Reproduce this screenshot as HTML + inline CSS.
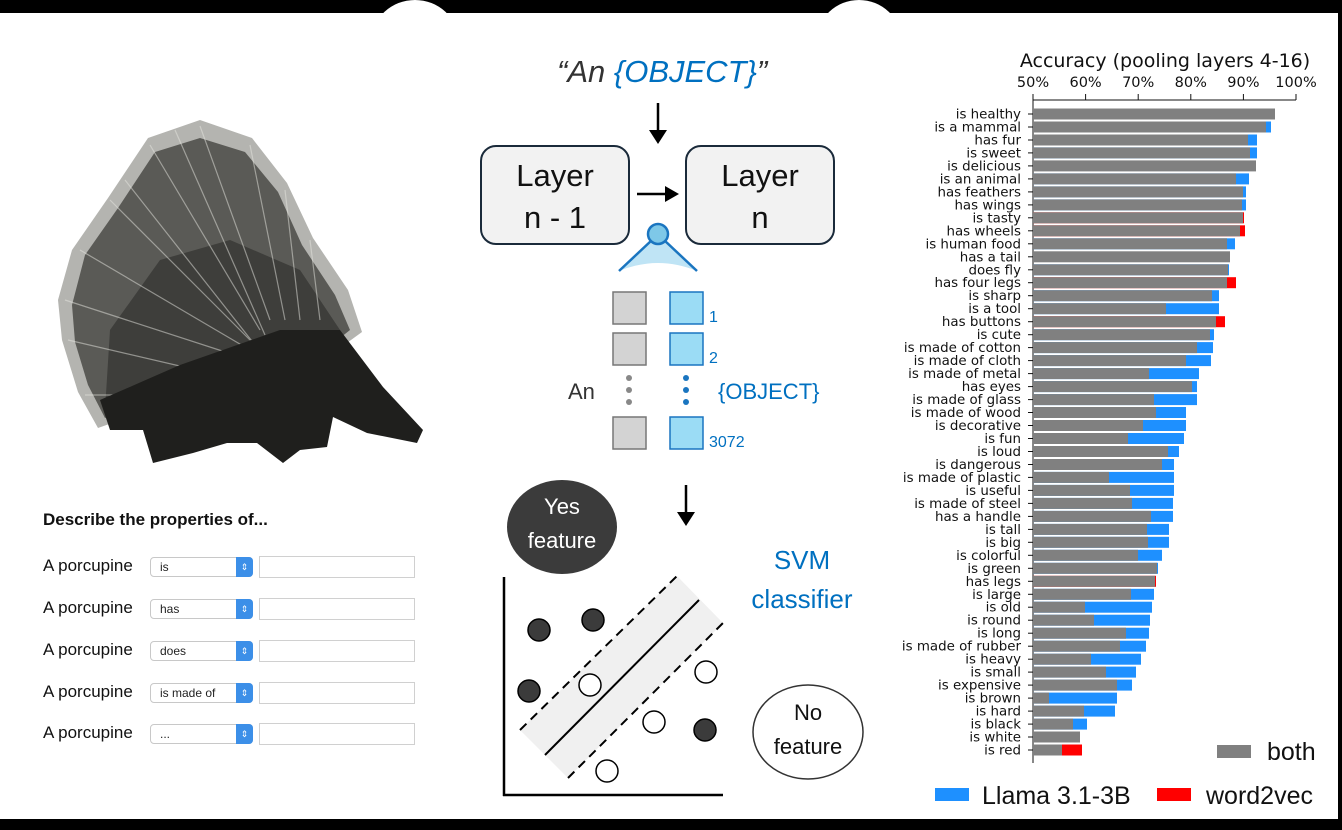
<!DOCTYPE html>
<html><head><meta charset="utf-8"><style>
html,body{margin:0;padding:0;background:#fff;}
body{width:1342px;height:830px;overflow:hidden;position:relative;font-family:"Liberation Sans",sans-serif;}
svg{position:absolute;left:0;top:0;}
.lb{font-family:"DejaVu Sans",sans-serif;font-size:13.4px;fill:#111;text-anchor:end;}
.g{fill:#808080}.b{fill:#1e90ff}.r{fill:#ff0000}
.frm{position:absolute;font-size:17px;color:#111;}
.sel{position:absolute;left:150px;width:103px;height:20px;border:1px solid #c8c8c8;border-radius:4px;background:#fff;box-sizing:border-box;font-size:12px;line-height:19px;padding-left:9px;color:#222;}
.sel i{position:absolute;right:-1px;top:-1px;width:17px;height:20px;background:#3c8fe8;border-radius:0 4px 4px 0;color:#fff;font-style:normal;font-size:9px;text-align:center;line-height:20px;}
.inp{position:absolute;left:259px;width:156px;height:22px;border:1px solid #d0d0d0;box-sizing:border-box;background:#fff;}
</style></head><body>
<svg width="1342" height="830" viewBox="0 0 1342 830">
<!-- frame -->
<rect x="0" y="0" width="1342" height="13" fill="#000"/>
<ellipse cx="415" cy="40" rx="43" ry="40" fill="#fff"/>
<ellipse cx="859" cy="40" rx="42" ry="40" fill="#fff"/>
<rect x="0" y="13" width="1338" height="806" fill="#fff"/>
<rect x="1338" y="0" width="4" height="830" fill="#000"/>
<rect x="0" y="819" width="1342" height="11" fill="#000"/>

<!-- porcupine -->
<g>
<polygon points="58,300 72,250 108,198 148,138 200,120 252,138 287,183 313,238 348,290 362,332 340,348 200,392 98,428 78,392 62,340" fill="#b4b4b0"/>
<polygon points="72,305 85,255 118,208 155,152 200,138 245,152 278,192 302,245 335,295 350,330 335,342 200,385 105,418 88,385 75,342" fill="#5a5a56"/>
<polygon points="110,330 160,260 230,240 300,270 340,330 200,385 105,410" fill="#3e3e3b"/>
<g stroke="#e6e6e0" stroke-width="1.2" opacity="0.5">
<line x1="250" y1="360" x2="65" y2="300"/><line x1="250" y1="350" x2="80" y2="250"/><line x1="250" y1="340" x2="110" y2="200"/>
<line x1="260" y1="330" x2="150" y2="145"/><line x1="270" y1="320" x2="200" y2="126"/><line x1="285" y1="320" x2="250" y2="145"/>
<line x1="300" y1="320" x2="285" y2="190"/><line x1="320" y1="320" x2="310" y2="240"/><line x1="240" y1="380" x2="68" y2="340"/>
<line x1="230" y1="395" x2="85" y2="395"/><line x1="255" y1="345" x2="125" y2="180"/><line x1="265" y1="335" x2="175" y2="130"/>
</g>
<polygon points="100,400 180,365 280,330 340,330 383,387 423,430 417,443 367,433 333,417 327,447 300,450 283,463 257,443 227,443 193,453 153,463 143,430 110,430" fill="#1f1f1d"/>
</g>

<!-- middle -->
<text x="557" y="82" font-family="Liberation Sans,sans-serif" font-size="31" font-style="italic" fill="#333">“An <tspan fill="#0070c0">{OBJECT}</tspan>”</text>
<line x1="658" y1="103" x2="658" y2="132" stroke="#000" stroke-width="2.5"/>
<polygon points="649,130 667,130 658,144" fill="#000"/>
<rect x="481" y="146" width="148" height="98" rx="15" fill="#f2f2f2" stroke="#1a2a3a" stroke-width="2"/>
<rect x="686" y="146" width="148" height="98" rx="15" fill="#f2f2f2" stroke="#1a2a3a" stroke-width="2"/>
<g font-family="Liberation Sans,sans-serif" font-size="31" fill="#111" text-anchor="middle">
<text x="555" y="186">Layer</text><text x="555" y="228">n - 1</text>
<text x="760" y="186">Layer</text><text x="760" y="228">n</text>
</g>
<line x1="637" y1="194" x2="667" y2="194" stroke="#000" stroke-width="2.5"/>
<polygon points="665,186 679,194 665,202" fill="#000"/>
<path d="M619,271 L650,242 L668,242 L697,271 Q658,255 619,271 Z" fill="#bfe4f5"/>
<line x1="619" y1="271" x2="652" y2="240" stroke="#1a75c0" stroke-width="2.5"/>
<line x1="697" y1="271" x2="664" y2="240" stroke="#1a75c0" stroke-width="2.5"/>
<circle cx="658" cy="234" r="10" fill="#7ec8e8" stroke="#1a75c0" stroke-width="2.5"/>
<g fill="#d3d3d3" stroke="#777" stroke-width="1.5">
<rect x="613" y="292" width="33" height="32"/><rect x="613" y="333" width="33" height="32"/><rect x="613" y="417" width="33" height="32"/>
</g>
<g fill="#9bdcf5" stroke="#1a75c0" stroke-width="1.5">
<rect x="670" y="292" width="33" height="32"/><rect x="670" y="333" width="33" height="32"/><rect x="670" y="417" width="33" height="32"/>
</g>
<g fill="#888"><circle cx="629" cy="378" r="3"/><circle cx="629" cy="390" r="3"/><circle cx="629" cy="402" r="3"/></g>
<g fill="#1a75c0"><circle cx="686" cy="378" r="3"/><circle cx="686" cy="390" r="3"/><circle cx="686" cy="402" r="3"/></g>
<g font-family="Liberation Sans,sans-serif" fill="#0070c0">
<text x="709" y="322" font-size="16">1</text><text x="709" y="363" font-size="16">2</text><text x="709" y="447" font-size="16">3072</text>
<text x="718" y="399" font-size="22">{OBJECT}</text>
</g>
<text x="568" y="399" font-family="Liberation Sans,sans-serif" font-size="22" fill="#333">An</text>

<line x1="686" y1="485" x2="686" y2="514" stroke="#000" stroke-width="2.5"/>
<polygon points="677,512 695,512 686,526" fill="#000"/>
<ellipse cx="562" cy="527" rx="55" ry="47" fill="#3b3b3b"/>
<g font-family="Liberation Sans,sans-serif" font-size="22" text-anchor="middle">
<text x="562" y="514" fill="#fff">Yes</text><text x="562" y="548" fill="#fff">feature</text>
<text x="802" y="569" fill="#0070c0" font-size="26">SVM</text><text x="802" y="608" fill="#0070c0" font-size="26">classifier</text>
</g>
<polygon points="520,730 677,576 723,623 568,778" fill="#f0f0f0"/>
<line x1="520" y1="730" x2="677" y2="576" stroke="#000" stroke-width="2" stroke-dasharray="9,6"/>
<line x1="568" y1="778" x2="723" y2="623" stroke="#000" stroke-width="2" stroke-dasharray="9,6"/>
<line x1="545" y1="755" x2="699" y2="600" stroke="#000" stroke-width="2"/>
<line x1="504" y1="577" x2="504" y2="796" stroke="#000" stroke-width="2.5"/>
<line x1="503" y1="795" x2="723" y2="795" stroke="#000" stroke-width="2.5"/>
<g fill="#3b3b3b" stroke="#000" stroke-width="1.5">
<circle cx="539" cy="630" r="11"/><circle cx="593" cy="620" r="11"/><circle cx="529" cy="691" r="11"/><circle cx="705" cy="730" r="11"/>
</g>
<g fill="#fff" stroke="#000" stroke-width="1.5">
<circle cx="590" cy="685" r="11"/><circle cx="706" cy="672" r="11"/><circle cx="654" cy="722" r="11"/><circle cx="607" cy="771" r="11"/>
</g>
<ellipse cx="808" cy="732" rx="55" ry="47" fill="#fff" stroke="#333" stroke-width="1.5"/>
<g font-family="Liberation Sans,sans-serif" font-size="22" text-anchor="middle" fill="#111">
<text x="808" y="720">No</text><text x="808" y="754">feature</text>
</g>

<!-- chart -->
<text x="1165" y="67" font-family="DejaVu Sans,sans-serif" font-size="19" text-anchor="middle" fill="#111">Accuracy (pooling layers 4-16)</text>
<g font-family="DejaVu Sans,sans-serif" font-size="14.5" text-anchor="middle" fill="#111">
<text x="1033" y="87">50%</text><text x="1085.6" y="87">60%</text><text x="1138.2" y="87">70%</text><text x="1190.8" y="87">80%</text><text x="1243.4" y="87">90%</text><text x="1296" y="87">100%</text>
</g>
<g stroke="#111" stroke-width="1">
<line x1="1033" y1="100" x2="1296" y2="100"/><line x1="1033" y1="100" x2="1033" y2="763"/>
<line x1="1033" y1="94" x2="1033" y2="100"/><line x1="1085.6" y1="94" x2="1085.6" y2="100"/><line x1="1138.2" y1="94" x2="1138.2" y2="100"/><line x1="1190.8" y1="94" x2="1190.8" y2="100"/><line x1="1243.4" y1="94" x2="1243.4" y2="100"/><line x1="1296" y1="94" x2="1296" y2="100"/>
</g>
<g id="rows">
<g transform="translate(0,114)"><text class="lb" x="1021" y="4.5">is healthy</text><rect class="g" x="1033" y="-5.5" width="242" height="11"/></g>
<g transform="translate(0,127)"><text class="lb" x="1021" y="4.5">is a mammal</text><rect class="b" x="1033" y="-5.5" width="238" height="11"/><rect class="g" x="1033" y="-5.5" width="233" height="11"/></g>
<g transform="translate(0,140)"><text class="lb" x="1021" y="4.5">has fur</text><rect class="b" x="1033" y="-5.5" width="224" height="11"/><rect class="g" x="1033" y="-5.5" width="215" height="11"/></g>
<g transform="translate(0,152.9)"><text class="lb" x="1021" y="4.5">is sweet</text><rect class="b" x="1033" y="-5.5" width="224" height="11"/><rect class="g" x="1033" y="-5.5" width="217" height="11"/></g>
<g transform="translate(0,165.9)"><text class="lb" x="1021" y="4.5">is delicious</text><rect class="g" x="1033" y="-5.5" width="223" height="11"/></g>
<g transform="translate(0,178.9)"><text class="lb" x="1021" y="4.5">is an animal</text><rect class="b" x="1033" y="-5.5" width="216" height="11"/><rect class="g" x="1033" y="-5.5" width="203" height="11"/></g>
<g transform="translate(0,191.9)"><text class="lb" x="1021" y="4.5">has feathers</text><rect class="b" x="1033" y="-5.5" width="213" height="11"/><rect class="g" x="1033" y="-5.5" width="210" height="11"/></g>
<g transform="translate(0,204.9)"><text class="lb" x="1021" y="4.5">has wings</text><rect class="b" x="1033" y="-5.5" width="213" height="11"/><rect class="g" x="1033" y="-5.5" width="209" height="11"/></g>
<g transform="translate(0,217.8)"><text class="lb" x="1021" y="4.5">is tasty</text><rect class="r" x="1033" y="-5.5" width="211" height="11"/><rect class="g" x="1033" y="-5.5" width="210" height="11"/></g>
<g transform="translate(0,230.8)"><text class="lb" x="1021" y="4.5">has wheels</text><rect class="r" x="1033" y="-5.5" width="212" height="11"/><rect class="g" x="1033" y="-5.5" width="207" height="11"/></g>
<g transform="translate(0,243.8)"><text class="lb" x="1021" y="4.5">is human food</text><rect class="b" x="1033" y="-5.5" width="202" height="11"/><rect class="g" x="1033" y="-5.5" width="194" height="11"/></g>
<g transform="translate(0,256.8)"><text class="lb" x="1021" y="4.5">has a tail</text><rect class="g" x="1033" y="-5.5" width="197" height="11"/></g>
<g transform="translate(0,269.8)"><text class="lb" x="1021" y="4.5">does fly</text><rect class="b" x="1033" y="-5.5" width="196" height="11"/><rect class="g" x="1033" y="-5.5" width="195" height="11"/></g>
<g transform="translate(0,282.7)"><text class="lb" x="1021" y="4.5">has four legs</text><rect class="r" x="1033" y="-5.5" width="203" height="11"/><rect class="g" x="1033" y="-5.5" width="194" height="11"/></g>
<g transform="translate(0,295.7)"><text class="lb" x="1021" y="4.5">is sharp</text><rect class="b" x="1033" y="-5.5" width="186" height="11"/><rect class="g" x="1033" y="-5.5" width="179" height="11"/></g>
<g transform="translate(0,308.7)"><text class="lb" x="1021" y="4.5">is a tool</text><rect class="b" x="1033" y="-5.5" width="186" height="11"/><rect class="g" x="1033" y="-5.5" width="133" height="11"/></g>
<g transform="translate(0,321.7)"><text class="lb" x="1021" y="4.5">has buttons</text><rect class="r" x="1033" y="-5.5" width="192" height="11"/><rect class="g" x="1033" y="-5.5" width="183" height="11"/></g>
<g transform="translate(0,334.7)"><text class="lb" x="1021" y="4.5">is cute</text><rect class="b" x="1033" y="-5.5" width="181" height="11"/><rect class="g" x="1033" y="-5.5" width="177" height="11"/></g>
<g transform="translate(0,347.6)"><text class="lb" x="1021" y="4.5">is made of cotton</text><rect class="b" x="1033" y="-5.5" width="180" height="11"/><rect class="g" x="1033" y="-5.5" width="164" height="11"/></g>
<g transform="translate(0,360.6)"><text class="lb" x="1021" y="4.5">is made of cloth</text><rect class="b" x="1033" y="-5.5" width="178" height="11"/><rect class="g" x="1033" y="-5.5" width="153" height="11"/></g>
<g transform="translate(0,373.6)"><text class="lb" x="1021" y="4.5">is made of metal</text><rect class="b" x="1033" y="-5.5" width="166" height="11"/><rect class="g" x="1033" y="-5.5" width="116" height="11"/></g>
<g transform="translate(0,386.6)"><text class="lb" x="1021" y="4.5">has eyes</text><rect class="b" x="1033" y="-5.5" width="164" height="11"/><rect class="g" x="1033" y="-5.5" width="159" height="11"/></g>
<g transform="translate(0,399.6)"><text class="lb" x="1021" y="4.5">is made of glass</text><rect class="b" x="1033" y="-5.5" width="164" height="11"/><rect class="g" x="1033" y="-5.5" width="121" height="11"/></g>
<g transform="translate(0,412.5)"><text class="lb" x="1021" y="4.5">is made of wood</text><rect class="b" x="1033" y="-5.5" width="153" height="11"/><rect class="g" x="1033" y="-5.5" width="123" height="11"/></g>
<g transform="translate(0,425.5)"><text class="lb" x="1021" y="4.5">is decorative</text><rect class="b" x="1033" y="-5.5" width="153" height="11"/><rect class="g" x="1033" y="-5.5" width="110" height="11"/></g>
<g transform="translate(0,438.5)"><text class="lb" x="1021" y="4.5">is fun</text><rect class="b" x="1033" y="-5.5" width="151" height="11"/><rect class="g" x="1033" y="-5.5" width="95" height="11"/></g>
<g transform="translate(0,451.5)"><text class="lb" x="1021" y="4.5">is loud</text><rect class="b" x="1033" y="-5.5" width="146" height="11"/><rect class="g" x="1033" y="-5.5" width="135" height="11"/></g>
<g transform="translate(0,464.5)"><text class="lb" x="1021" y="4.5">is dangerous</text><rect class="b" x="1033" y="-5.5" width="141" height="11"/><rect class="g" x="1033" y="-5.5" width="129" height="11"/></g>
<g transform="translate(0,477.4)"><text class="lb" x="1021" y="4.5">is made of plastic</text><rect class="b" x="1033" y="-5.5" width="141" height="11"/><rect class="g" x="1033" y="-5.5" width="76" height="11"/></g>
<g transform="translate(0,490.4)"><text class="lb" x="1021" y="4.5">is useful</text><rect class="b" x="1033" y="-5.5" width="141" height="11"/><rect class="g" x="1033" y="-5.5" width="97" height="11"/></g>
<g transform="translate(0,503.4)"><text class="lb" x="1021" y="4.5">is made of steel</text><rect class="b" x="1033" y="-5.5" width="140" height="11"/><rect class="g" x="1033" y="-5.5" width="99" height="11"/></g>
<g transform="translate(0,516.4)"><text class="lb" x="1021" y="4.5">has a handle</text><rect class="b" x="1033" y="-5.5" width="140" height="11"/><rect class="g" x="1033" y="-5.5" width="118" height="11"/></g>
<g transform="translate(0,529.4)"><text class="lb" x="1021" y="4.5">is tall</text><rect class="b" x="1033" y="-5.5" width="136" height="11"/><rect class="g" x="1033" y="-5.5" width="114" height="11"/></g>
<g transform="translate(0,542.3)"><text class="lb" x="1021" y="4.5">is big</text><rect class="b" x="1033" y="-5.5" width="136" height="11"/><rect class="g" x="1033" y="-5.5" width="115" height="11"/></g>
<g transform="translate(0,555.3)"><text class="lb" x="1021" y="4.5">is colorful</text><rect class="b" x="1033" y="-5.5" width="129" height="11"/><rect class="g" x="1033" y="-5.5" width="105" height="11"/></g>
<g transform="translate(0,568.3)"><text class="lb" x="1021" y="4.5">is green</text><rect class="b" x="1033" y="-5.5" width="125" height="11"/><rect class="g" x="1033" y="-5.5" width="124" height="11"/></g>
<g transform="translate(0,581.3)"><text class="lb" x="1021" y="4.5">has legs</text><rect class="r" x="1033" y="-5.5" width="123" height="11"/><rect class="g" x="1033" y="-5.5" width="122" height="11"/></g>
<g transform="translate(0,594.3)"><text class="lb" x="1021" y="4.5">is large</text><rect class="b" x="1033" y="-5.5" width="121" height="11"/><rect class="g" x="1033" y="-5.5" width="98" height="11"/></g>
<g transform="translate(0,607.2)"><text class="lb" x="1021" y="4.5">is old</text><rect class="b" x="1033" y="-5.5" width="119" height="11"/><rect class="g" x="1033" y="-5.5" width="52" height="11"/></g>
<g transform="translate(0,620.2)"><text class="lb" x="1021" y="4.5">is round</text><rect class="b" x="1033" y="-5.5" width="117" height="11"/><rect class="g" x="1033" y="-5.5" width="61" height="11"/></g>
<g transform="translate(0,633.2)"><text class="lb" x="1021" y="4.5">is long</text><rect class="b" x="1033" y="-5.5" width="116" height="11"/><rect class="g" x="1033" y="-5.5" width="93" height="11"/></g>
<g transform="translate(0,646.2)"><text class="lb" x="1021" y="4.5">is made of rubber</text><rect class="b" x="1033" y="-5.5" width="113" height="11"/><rect class="g" x="1033" y="-5.5" width="87" height="11"/></g>
<g transform="translate(0,659.2)"><text class="lb" x="1021" y="4.5">is heavy</text><rect class="b" x="1033" y="-5.5" width="108" height="11"/><rect class="g" x="1033" y="-5.5" width="58" height="11"/></g>
<g transform="translate(0,672.1)"><text class="lb" x="1021" y="4.5">is small</text><rect class="b" x="1033" y="-5.5" width="103" height="11"/><rect class="g" x="1033" y="-5.5" width="73" height="11"/></g>
<g transform="translate(0,685.1)"><text class="lb" x="1021" y="4.5">is expensive</text><rect class="b" x="1033" y="-5.5" width="99" height="11"/><rect class="g" x="1033" y="-5.5" width="84" height="11"/></g>
<g transform="translate(0,698.1)"><text class="lb" x="1021" y="4.5">is brown</text><rect class="b" x="1033" y="-5.5" width="84" height="11"/><rect class="g" x="1033" y="-5.5" width="16" height="11"/></g>
<g transform="translate(0,711.1)"><text class="lb" x="1021" y="4.5">is hard</text><rect class="b" x="1033" y="-5.5" width="82" height="11"/><rect class="g" x="1033" y="-5.5" width="51" height="11"/></g>
<g transform="translate(0,724.1)"><text class="lb" x="1021" y="4.5">is black</text><rect class="b" x="1033" y="-5.5" width="54" height="11"/><rect class="g" x="1033" y="-5.5" width="40" height="11"/></g>
<g transform="translate(0,737)"><text class="lb" x="1021" y="4.5">is white</text><rect class="g" x="1033" y="-5.5" width="47" height="11"/></g>
<g transform="translate(0,750)"><text class="lb" x="1021" y="4.5">is red</text><rect class="r" x="1033" y="-5.5" width="49" height="11"/><rect class="g" x="1033" y="-5.5" width="29" height="11"/></g>
</g>
<g stroke="#111" stroke-width="1">
<line x1="1028" y1="114" x2="1033" y2="114"/><line x1="1028" y1="127" x2="1033" y2="127"/><line x1="1028" y1="140" x2="1033" y2="140"/><line x1="1028" y1="152.9" x2="1033" y2="152.9"/><line x1="1028" y1="165.9" x2="1033" y2="165.9"/><line x1="1028" y1="178.9" x2="1033" y2="178.9"/><line x1="1028" y1="191.9" x2="1033" y2="191.9"/><line x1="1028" y1="204.9" x2="1033" y2="204.9"/><line x1="1028" y1="217.8" x2="1033" y2="217.8"/><line x1="1028" y1="230.8" x2="1033" y2="230.8"/><line x1="1028" y1="243.8" x2="1033" y2="243.8"/><line x1="1028" y1="256.8" x2="1033" y2="256.8"/><line x1="1028" y1="269.8" x2="1033" y2="269.8"/><line x1="1028" y1="282.7" x2="1033" y2="282.7"/><line x1="1028" y1="295.7" x2="1033" y2="295.7"/><line x1="1028" y1="308.7" x2="1033" y2="308.7"/><line x1="1028" y1="321.7" x2="1033" y2="321.7"/><line x1="1028" y1="334.7" x2="1033" y2="334.7"/><line x1="1028" y1="347.6" x2="1033" y2="347.6"/><line x1="1028" y1="360.6" x2="1033" y2="360.6"/><line x1="1028" y1="373.6" x2="1033" y2="373.6"/><line x1="1028" y1="386.6" x2="1033" y2="386.6"/><line x1="1028" y1="399.6" x2="1033" y2="399.6"/><line x1="1028" y1="412.5" x2="1033" y2="412.5"/><line x1="1028" y1="425.5" x2="1033" y2="425.5"/><line x1="1028" y1="438.5" x2="1033" y2="438.5"/><line x1="1028" y1="451.5" x2="1033" y2="451.5"/><line x1="1028" y1="464.5" x2="1033" y2="464.5"/><line x1="1028" y1="477.4" x2="1033" y2="477.4"/><line x1="1028" y1="490.4" x2="1033" y2="490.4"/><line x1="1028" y1="503.4" x2="1033" y2="503.4"/><line x1="1028" y1="516.4" x2="1033" y2="516.4"/><line x1="1028" y1="529.4" x2="1033" y2="529.4"/><line x1="1028" y1="542.3" x2="1033" y2="542.3"/><line x1="1028" y1="555.3" x2="1033" y2="555.3"/><line x1="1028" y1="568.3" x2="1033" y2="568.3"/><line x1="1028" y1="581.3" x2="1033" y2="581.3"/><line x1="1028" y1="594.3" x2="1033" y2="594.3"/><line x1="1028" y1="607.2" x2="1033" y2="607.2"/><line x1="1028" y1="620.2" x2="1033" y2="620.2"/><line x1="1028" y1="633.2" x2="1033" y2="633.2"/><line x1="1028" y1="646.2" x2="1033" y2="646.2"/><line x1="1028" y1="659.2" x2="1033" y2="659.2"/><line x1="1028" y1="672.1" x2="1033" y2="672.1"/><line x1="1028" y1="685.1" x2="1033" y2="685.1"/><line x1="1028" y1="698.1" x2="1033" y2="698.1"/><line x1="1028" y1="711.1" x2="1033" y2="711.1"/><line x1="1028" y1="724.1" x2="1033" y2="724.1"/><line x1="1028" y1="737" x2="1033" y2="737"/><line x1="1028" y1="750" x2="1033" y2="750"/>
</g>
<!-- legend -->
<rect x="1217" y="745" width="34" height="13" fill="#808080"/>
<text x="1267" y="760" font-family="Liberation Sans,sans-serif" font-size="25" fill="#111">both</text>
<rect x="935" y="788" width="34" height="13" fill="#1e90ff"/>
<text x="982" y="804" font-family="Liberation Sans,sans-serif" font-size="25" fill="#111">Llama 3.1-3B</text>
<rect x="1157" y="788" width="34" height="13" fill="#ff0000"/>
<text x="1206" y="804" font-family="Liberation Sans,sans-serif" font-size="25" fill="#111">word2vec</text>
</svg>

<div class="frm" style="left:43px;top:510px;font-weight:bold;">Describe the properties of...</div>
<div class="frm" style="left:43px;top:556px;">A porcupine</div>
<div class="sel" style="top:557px;">is<i>&#8661;</i></div><div class="inp" style="top:556px;"></div>
<div class="frm" style="left:43px;top:598px;">A porcupine</div>
<div class="sel" style="top:599px;">has<i>&#8661;</i></div><div class="inp" style="top:598px;"></div>
<div class="frm" style="left:43px;top:640px;">A porcupine</div>
<div class="sel" style="top:641px;">does<i>&#8661;</i></div><div class="inp" style="top:640px;"></div>
<div class="frm" style="left:43px;top:682px;">A porcupine</div>
<div class="sel" style="top:683px;">is made of<i>&#8661;</i></div><div class="inp" style="top:682px;"></div>
<div class="frm" style="left:43px;top:723px;">A porcupine</div>
<div class="sel" style="top:724px;">...<i>&#8661;</i></div><div class="inp" style="top:723px;"></div>
</body></html>
